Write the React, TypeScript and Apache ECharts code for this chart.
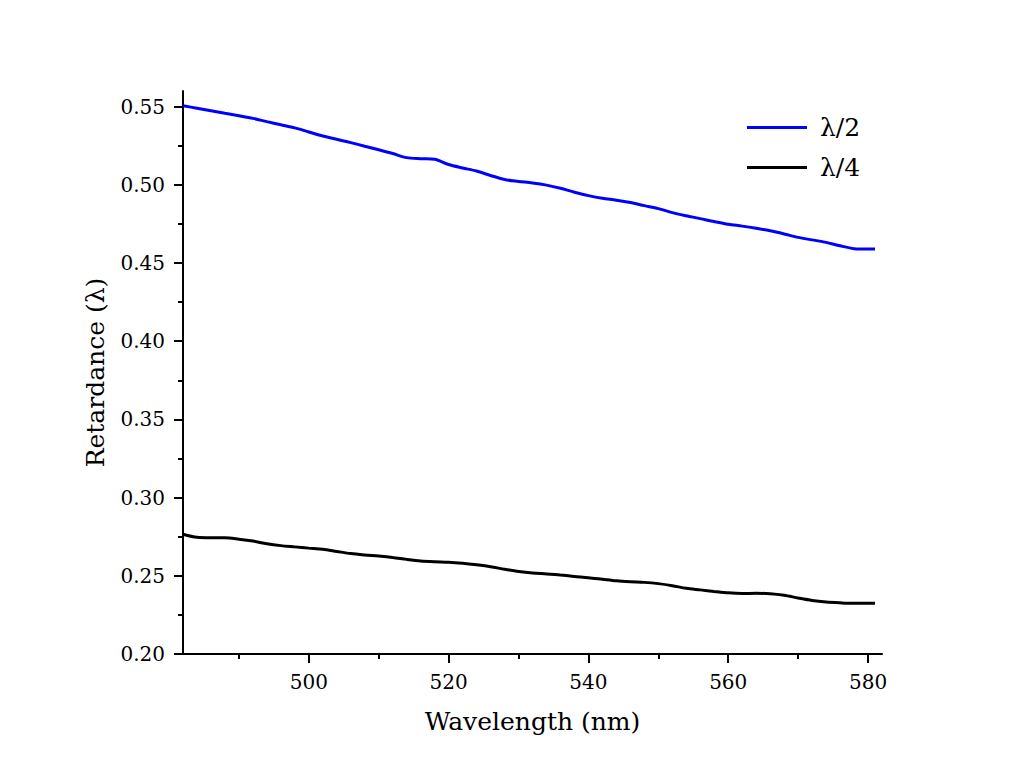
import React, { useEffect, useRef } from "react";
import * as echarts from "echarts";

const wavelengths = [
  482, 484, 486, 488, 490, 492, 494, 496, 498, 500, 502, 504, 506, 508, 510,
  512, 514, 516, 518, 520, 522, 524, 526, 528, 530, 532, 534, 536, 538, 540,
  542, 544, 546, 548, 550, 552, 554, 556, 558, 560, 562, 564, 566, 568, 570,
  572, 574, 576, 578, 580, 581,
];

const halfWave = [
  0.5506, 0.549, 0.5474, 0.5458, 0.5442, 0.5425, 0.5404, 0.5384, 0.5364,
  0.5338, 0.5312, 0.5292, 0.527, 0.5247, 0.5224, 0.52, 0.5174,
  0.5167, 0.5163, 0.513, 0.5108, 0.5088, 0.506, 0.5034, 0.5022, 0.5012,
  0.4998, 0.4978, 0.4953, 0.4931, 0.4914, 0.4902, 0.4887, 0.4867, 0.4848,
  0.4822, 0.4802, 0.4784, 0.4765, 0.4748, 0.4736, 0.4722, 0.4706, 0.4686,
  0.4664, 0.4648, 0.4632, 0.461, 0.4592, 0.4589, 0.459,
];

const quarterWave = [
  0.2766, 0.2746, 0.2743, 0.2743, 0.2734, 0.2722, 0.2705, 0.2693, 0.2685,
  0.2677, 0.267, 0.2656, 0.2642, 0.2633, 0.2626, 0.2617, 0.2605, 0.2595,
  0.259, 0.2587, 0.258, 0.257, 0.2558, 0.2542, 0.2528, 0.2518, 0.2512,
  0.2505, 0.2496, 0.2488, 0.2478, 0.2468, 0.2462, 0.2458, 0.245, 0.2437,
  0.242, 0.241, 0.24, 0.2391, 0.2387, 0.2388, 0.2386, 0.2376, 0.2358,
  0.2342, 0.2332, 0.2327, 0.2324, 0.2324, 0.2324,
];

const xMajorTicks = [500, 520, 540, 560, 580];
const xMinorTicks = [490, 510, 530, 550, 570];
const yMajorTicks = [0.2, 0.25, 0.3, 0.35, 0.4, 0.45, 0.5, 0.55];
const yMinorTicks = [0.225, 0.275, 0.325, 0.375, 0.425, 0.475, 0.525];

const seriesNames = ["λ/2", "λ/4"];
const seriesColors = ["#0000ff", "#000000"];

const FONT = "DejaVu Serif";

export default function App() {
  const ref = useRef<HTMLDivElement>(null);

  useEffect(() => {
    if (!ref.current) return;
    const chart = echarts.init(ref.current, undefined, { renderer: "svg" });
    const axisLineStyle = { color: "#000", width: 2 };
    const option: any = {
      animation: false,
      backgroundColor: "#fff",
      grid: { left: 183, top: 91, right: 142, bottom: 130, containLabel: false },
      legend: {
        orient: "vertical",
        left: 747,
        top: 115,
        padding: 0,
        icon: "rect",
        itemWidth: 60,
        itemHeight: 3,
        itemGap: 15,
        textStyle: {
          fontFamily: FONT,
          fontSize: 25,
          color: "#000",
          padding: [0, 0, 0, 8],
        },
        data: seriesNames,
      },
      xAxis: [
        {
          type: "value",
          min: 482,
          max: 582,
          position: "bottom",
          name: "Wavelength (nm)",
          nameLocation: "middle",
          nameGap: 55,
          nameTextStyle: { fontFamily: FONT, fontSize: 25, color: "#000" },
          axisLine: { show: true, onZero: false, lineStyle: axisLineStyle },
          axisTick: {
            show: true,
            inside: false,
            length: 9,
            customValues: xMajorTicks,
            lineStyle: { color: "#000", width: 2 },
          },
          axisLabel: {
            show: true,
            customValues: xMajorTicks,
            margin: 18,
            fontFamily: FONT,
            fontSize: 20,
            color: "#000",
          },
          splitLine: { show: false },
        },
        {
          type: "value",
          min: 482,
          max: 582,
          position: "bottom",
          axisLine: { show: false, onZero: false },
          axisTick: {
            show: true,
            inside: false,
            length: 5,
            customValues: xMinorTicks,
            lineStyle: { color: "#000", width: 2 },
          },
          axisLabel: { show: false },
          splitLine: { show: false },
        },
      ],
      yAxis: [
        {
          type: "value",
          min: 0.2,
          max: 0.56,
          position: "left",
          name: "Retardance (λ)",
          nameLocation: "middle",
          nameGap: 75,
          nameRotate: 90,
          nameTextStyle: { fontFamily: FONT, fontSize: 25, color: "#000" },
          axisLine: { show: true, onZero: false, lineStyle: axisLineStyle },
          axisTick: {
            show: true,
            inside: false,
            length: 9,
            customValues: yMajorTicks,
            lineStyle: { color: "#000", width: 2 },
          },
          axisLabel: {
            show: true,
            customValues: yMajorTicks,
            margin: 18,
            fontFamily: FONT,
            fontSize: 20,
            color: "#000",
            formatter: (v: number) => v.toFixed(2),
          },
          splitLine: { show: false },
        },
        {
          type: "value",
          min: 0.2,
          max: 0.56,
          position: "left",
          axisLine: { show: false, onZero: false },
          axisTick: {
            show: true,
            inside: false,
            length: 5,
            customValues: yMinorTicks,
            lineStyle: { color: "#000", width: 2 },
          },
          axisLabel: { show: false },
          splitLine: { show: false },
        },
      ],
      series: [
        {
          name: seriesNames[0],
          type: "line",
          xAxisIndex: 0,
          yAxisIndex: 0,
          symbol: "none",
          smooth: 0.3,
          lineStyle: { color: seriesColors[0], width: 3 },
          itemStyle: { color: seriesColors[0] },
          data: wavelengths.map((w, i) => [w, halfWave[i]]),
        },
        {
          name: seriesNames[1],
          type: "line",
          xAxisIndex: 0,
          yAxisIndex: 0,
          symbol: "none",
          smooth: 0.3,
          lineStyle: { color: seriesColors[1], width: 3 },
          itemStyle: { color: seriesColors[1] },
          data: wavelengths.map((w, i) => [w, quarterWave[i]]),
        },
      ],
    };
    chart.setOption(option);
    return () => chart.dispose();
  }, []);

  return (
    <div
      ref={ref}
      style={{ position: "fixed", left: 0, top: 0, width: 1024, height: 784 }}
    />
  );
}
